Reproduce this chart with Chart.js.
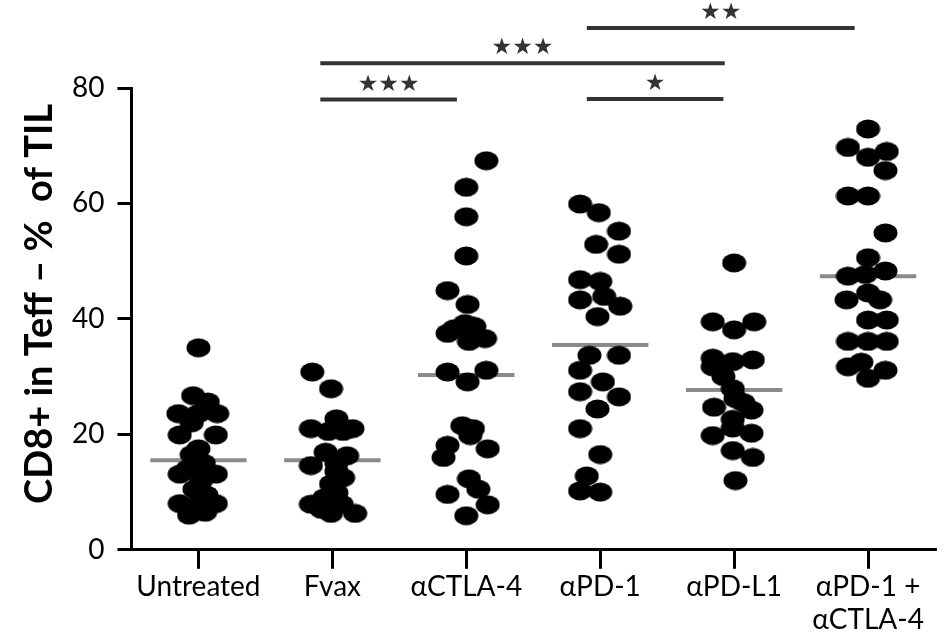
<!DOCTYPE html>
<html>
<head>
<meta charset="utf-8">
<script src="https://cdn.jsdelivr.net/npm/chart.js@4.4.1/dist/chart.umd.min.js"></script>
<style>
  html, body { margin: 0; padding: 0; background: #fff; }
  #wrap { width: 946px; height: 634px; }
</style>
</head>
<body>
<div id="wrap"><canvas id="dotChart" width="946" height="634"></canvas></div>
<script>
// categories and tick labels
const categories = ['Untreated', 'Fvax', 'αCTLA-4', 'αPD-1', 'αPD-L1', ['αPD-1 +', 'αCTLA-4']];
const yTicks = [0, 20, 40, 60, 80];
const yTitle = 'CD8+ in Teff – %  of TIL';

// values per group (% of TIL) and horizontal jitter (in category units)
const untreatedValues = [35.0, 26.7, 25.6, 23.6, 23.6, 23.6, 22.0, 19.9, 19.9, 17.5, 16.5, 15.0, 14.0, 13.1, 13.1, 12.0, 10.5, 9.5, 8.0, 8.0, 7.5, 6.5, 6.0];
const untreatedJitter = [0, -0.04, 0.07, -0.15, 0.0, 0.14, -0.05, -0.14, 0.13, 0, -0.05, 0.04, -0.08, -0.14, 0.13, 0.02, -0.03, 0.06, -0.14, 0.13, -0.03, 0.05, -0.07];

const fvaxValues = [30.8, 27.9, 22.7, 21.0, 21.0, 20.5, 20.5, 16.9, 16.3, 15.0, 14.6, 13.6, 12.5, 11.4, 9.9, 9.0, 7.9, 7.9, 7.0, 6.3, 6.3];
const fvaxJitter = [-0.15, -0.01, 0.03, -0.16, 0.15, -0.03, 0.08, -0.05, 0.11, 0.03, -0.16, 0.03, 0.08, -0.01, 0.03, -0.06, -0.16, 0.07, -0.08, -0.01, 0.17];

const ctla4Values = [67.4, 62.8, 57.7, 50.9, 44.9, 42.5, 39.2, 38.7, 38.3, 37.5, 36.6, 36.1, 31.1, 30.8, 29.1, 21.5, 21.0, 19.8, 18.1, 17.5, 16.0, 12.3, 10.5, 9.6, 7.8, 5.9];
const ctla4Jitter = [0.15, 0.0, 0.0, 0.0, -0.14, 0.01, -0.01, 0.06, -0.09, -0.14, 0.14, 0.02, 0.15, -0.14, 0.01, -0.03, 0.05, 0.03, -0.14, 0.16, -0.17, 0.02, 0.09, -0.14, 0.16, 0.0];

const pd1Values = [59.9, 58.4, 55.2, 52.9, 51.2, 46.8, 46.5, 43.9, 43.3, 42.2, 40.4, 33.7, 33.7, 31.1, 29.1, 27.4, 26.5, 24.4, 21.0, 16.5, 12.8, 10.2, 10.0];
const pd1Jitter = [-0.15, -0.01, 0.14, -0.03, 0.14, -0.15, 0.0, 0.03, -0.15, 0.15, -0.02, -0.08, 0.14, -0.15, 0.02, -0.15, 0.14, -0.02, -0.15, 0.0, -0.1, -0.15, 0.0];

const pdl1Values = [49.7, 39.5, 39.5, 38.1, 33.2, 32.9, 32.6, 31.7, 30.0, 27.9, 26.2, 25.5, 24.7, 24.2, 22.6, 21.1, 19.8, 20.2, 17.2, 16.0, 12.0];
const pdl1Jitter = [0.0, -0.16, 0.15, 0.0, -0.16, 0.14, -0.01, -0.16, -0.08, -0.01, 0.01, 0.07, -0.15, 0.13, -0.01, -0.01, -0.16, 0.13, -0.01, 0.14, 0.01];

const comboValues = [72.9, 69.7, 69.0, 68.0, 65.7, 61.3, 61.3, 54.9, 50.6, 48.3, 47.7, 47.4, 44.5, 43.3, 43.3, 39.8, 39.8, 36.1, 36.1, 36.1, 32.5, 31.7, 31.1, 29.7];
const comboJitter = [0.0, -0.15, 0.14, 0.0, 0.13, -0.15, 0.0, 0.13, 0.0, 0.13, -0.02, -0.15, 0.0, -0.16, 0.09, 0.0, 0.14, -0.15, 0.0, 0.14, -0.05, -0.15, 0.13, 0.0];

const groupMedians = [15.5, 15.5, 30.3, 35.5, 27.7, 47.4];

// significance brackets: from / to (category position), level (y value), label
const sigFrom = [0.91, 0.91, 2.9, 2.9];
const sigTo = [1.93, 3.93, 3.92, 4.9];
const sigLevel = [78.0, 84.3, 78.1, 90.4];
const sigLabels = ['★★★', '★★★', '★', '★★'];

const groupValues = [untreatedValues, fvaxValues, ctla4Values, pd1Values, pdl1Values, comboValues];
const groupJitter = [untreatedJitter, fvaxJitter, ctla4Jitter, pd1Jitter, pdl1Jitter, comboJitter];

// elliptical dot used as point style
const dot = document.createElement('canvas');
dot.width = 25;
dot.height = 20;
const dctx = dot.getContext('2d');
dctx.fillStyle = '#000';
dctx.beginPath();
dctx.ellipse(12.5, 10, 12, 9.5, 0, 0, Math.PI * 2);
dctx.fill();

const dotData = [];
groupValues.forEach((vals, g) => {
    vals.forEach((v, i) => dotData.push({ x: g + groupJitter[g][i], y: v }));
});

const medianData = [];
groupMedians.forEach((m, g) => {
    medianData.push({ x: g - 0.36, y: m });
    medianData.push({ x: g + 0.36, y: m });
    medianData.push({ x: g + 0.4, y: null });
});

// brackets, stars and the rotated y title
const extrasPlugin = {
    id: 'extras',
    afterDatasetsDraw(chart) {
        const { ctx, chartArea, scales: { x, y } } = chart;
        ctx.save();
        sigFrom.forEach((from, i) => {
            const x1 = x.getPixelForValue(from);
            const x2 = x.getPixelForValue(sigTo[i]);
            const yy = y.getPixelForValue(sigLevel[i]);
            ctx.strokeStyle = '#333';
            ctx.lineWidth = 4;
            ctx.beginPath();
            ctx.moveTo(x1, yy);
            ctx.lineTo(x2, yy);
            ctx.stroke();
            ctx.fillStyle = '#333';
            ctx.font = '23px "DejaVu Sans"';
            ctx.textAlign = 'center';
            ctx.textBaseline = 'middle';
            ctx.fillText(sigLabels[i], (x1 + x2) / 2, yy - 15);
        });

        // axis title, sits a bit above the plot centre like in the figure
        ctx.translate(40, (chartArea.top + chartArea.bottom) / 2 - 15);
        ctx.rotate(-Math.PI / 2);
        ctx.fillStyle = '#000';
        ctx.font = 'bold 38px Lato';
        ctx.textAlign = 'center';
        ctx.textBaseline = 'middle';
        ctx.fillText(yTitle, 0, 0);
        ctx.restore();
    }
};

const ctx = document.getElementById('dotChart').getContext('2d');
new Chart(ctx, {
    type: 'scatter',
    data: {
        datasets: [
            {
                label: 'dots',
                data: dotData,
                pointStyle: dot,
                pointRadius: 10,
                order: 1
            },
            {
                type: 'line',
                label: 'median',
                data: medianData,
                borderColor: '#8a8a8a',
                borderWidth: 4,
                pointRadius: 0,
                spanGaps: false,
                order: 2
            }
        ]
    },
    options: {
        responsive: false,
        animation: false,
        events: [],
        layout: { padding: { left: 59, right: 0, top: 88, bottom: -4 } },
        plugins: {
            legend: { display: false },
            tooltip: { enabled: false }
        },
        scales: {
            x: {
                type: 'linear',
                min: -0.5,
                max: 5.5,
                afterBuildTicks: (scale) => {
                    scale.ticks = categories.map((c, i) => ({ value: i }));
                },
                ticks: {
                    color: '#000',
                    font: { family: 'Lato', size: 28, lineHeight: 1.2 },
                    padding: 1,
                    maxRotation: 0,
                    autoSkip: false,
                    callback: (v) => categories[v]
                },
                grid: { drawOnChartArea: false, drawTicks: true, tickLength: 19, color: '#000', lineWidth: 3 },
                border: { display: true, color: '#000', width: 3 }
            },
            y: {
                min: 0,
                max: 80,
                afterBuildTicks: (scale) => {
                    scale.ticks = yTicks.map((v) => ({ value: v }));
                },
                ticks: {
                    color: '#000',
                    font: { family: 'Lato', size: 28 },
                    padding: 13
                },
                grid: { drawOnChartArea: false, drawTicks: true, tickLength: 14, color: '#000', lineWidth: 3 },
                border: { display: true, color: '#000', width: 3 }
            }
        }
    },
    plugins: [extrasPlugin]
});
</script>
</body>
</html>
